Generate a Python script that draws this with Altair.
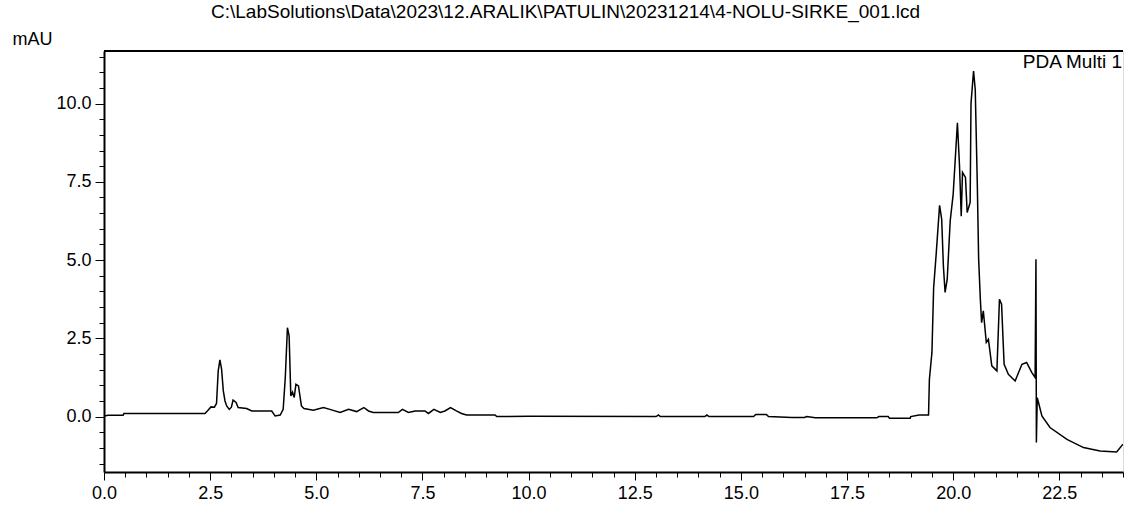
import altair as alt
import pandas as pd

TITLE = "C:\\LabSolutions\\Data\\2023\\12.ARALIK\\PATULIN\\20231214\\4-NOLU-SIRKE_001.lcd"
Y_UNIT = "mAU"
CHANNEL = "PDA Multi 1"

# retention time (min)
time_min = [
    0.0, 0.1, 0.45, 0.47, 2.38, 2.45, 2.52, 2.6, 2.65, 2.69, 2.73, 2.77, 2.81, 2.85,
    2.89, 2.95, 3.0, 3.04, 3.11, 3.16, 3.36, 3.48, 3.95, 4.0, 4.03, 4.15, 4.22, 4.27,
    4.32, 4.36, 4.40, 4.44, 4.48, 4.52, 4.58, 4.65, 4.71, 4.93, 5.17, 5.32, 5.56, 5.76,
    5.95, 6.12, 6.23, 6.34, 6.93, 7.03, 7.17, 7.33, 7.56, 7.64, 7.77, 7.92, 8.03, 8.16,
    8.3, 8.42, 8.54, 9.21, 9.25, 10.0, 13.0, 13.06, 13.1, 14.15, 14.2, 14.25, 15.3,
    15.35, 15.6, 15.65, 16.2, 16.5, 16.55, 16.75, 18.2, 18.25, 18.47, 18.5, 18.99,
    19.0, 19.2, 19.35, 19.42, 19.44, 19.5, 19.54, 19.6, 19.68, 19.73, 19.77, 19.81,
    19.86, 19.93, 20.0, 20.07, 20.1, 20.15, 20.19, 20.22, 20.29, 20.33, 20.4, 20.42,
    20.48, 20.52, 20.57, 20.6, 20.64, 20.67, 20.71, 20.78, 20.83, 20.91, 21.03, 21.09,
    21.14, 21.2, 21.3, 21.46, 21.62, 21.73, 21.85, 21.93, 21.95, 21.96, 21.98, 22.01,
    22.09, 22.28, 22.68, 23.07, 23.46, 23.85, 24.0,
]
# absorbance (mAU)
absorbance = [
    0.02, 0.04, 0.04, 0.1, 0.1, 0.2, 0.31, 0.3, 0.42, 1.46, 1.81, 1.51, 0.82, 0.5,
    0.34, 0.23, 0.3, 0.53, 0.45, 0.29, 0.26, 0.18, 0.18, 0.08, 0.02, 0.05, 0.23, 1.25,
    2.84, 2.58, 0.66, 0.78, 0.61, 1.03, 0.98, 0.34, 0.26, 0.2, 0.29, 0.23, 0.13, 0.23,
    0.16, 0.29, 0.18, 0.13, 0.13, 0.23, 0.13, 0.18, 0.18, 0.1, 0.23, 0.13, 0.18, 0.29,
    0.18, 0.1, 0.05, 0.05, 0.0, 0.01, 0.0, 0.05, 0.0, 0.0, 0.05, 0.0, 0.0,
    0.07, 0.07, 0.0, -0.03, -0.03, 0.0, -0.04, -0.04, 0.0, 0.0, -0.05, -0.05,
    0.0, 0.05, 0.05, 0.05, 1.19, 2.05, 4.12, 5.19, 6.75, 6.3, 4.8, 3.97,
    4.39, 6.25, 7.1, 8.7, 9.39, 8.0, 6.4, 7.8, 7.64, 6.52, 6.84, 10.0,
    11.04, 10.45, 7.32, 5.03, 3.75, 3.0, 3.38, 2.37, 2.47, 1.62, 1.46, 3.75,
    3.59, 1.67, 1.35, 1.14, 1.67, 1.73, 1.41, 1.25, 5.03, -0.83, 0.6, 0.45,
    0.02, -0.35, -0.73, -0.99, -1.1, -1.13, -0.88,
]

x_ticks = [i * 0.5 for i in range(0, 49)]
y_ticks = [i * 0.5 for i in range(-3, 24)]

df = pd.DataFrame({"t": time_min, "v": absorbance})
one = pd.DataFrame({"s": [CHANNEL]})

W, H = 1019, 421
FONT = "Liberation Sans"
FS = 18

major_test = "abs(datum.value % 2.5) < 0.000001"

x_axis = alt.Axis(
    values=x_ticks,
    labelExpr=f"({major_test}) ? format(datum.value, '.1f') : ''",
    tickSize={"condition": {"test": major_test, "value": 8}, "value": 5},
    tickColor="black", tickWidth=1,
    domainColor="black", domainWidth=2,
    labelFont=FONT, labelFontSize=FS, labelColor="black",
    labelPadding=4, labelOverlap=False, labelFlush=False,
    grid=False, title=None,
)
y_axis = alt.Axis(
    values=y_ticks,
    labelExpr=f"({major_test}) ? format(datum.value, '.1f') : ''",
    tickSize={"condition": {"test": major_test, "value": 9}, "value": 5},
    tickColor="black", tickWidth=1,
    domainColor="black", domainWidth=2,
    labelFont=FONT, labelFontSize=FS, labelColor="black",
    labelPadding=4, labelOverlap=False, labelFlush=False,
    grid=False,
    title=Y_UNIT, titleAngle=0, titleX=-92, titleY=-12,
    titleAlign="left", titleBaseline="middle",
    titleFont=FONT, titleFontSize=FS, titleFontWeight="normal", titleColor="black",
)

line = alt.Chart(df).mark_line(color="black", strokeWidth=1.5, clip=True).encode(
    x=alt.X("t:Q", scale=alt.Scale(domain=[0, 24], nice=False, zero=False), axis=x_axis),
    y=alt.Y("v:Q", scale=alt.Scale(domain=[-1.77, 11.68], nice=False, zero=False), axis=y_axis),
)

top_line = alt.Chart(one).mark_rule(color="black", strokeWidth=2).encode(
    x=alt.value(0), x2=alt.value(W), y=alt.value(0)
)

label = alt.Chart(one).mark_text(
    font=FONT, fontSize=19, color="black", align="right", baseline="middle"
).encode(text="s:N", x=alt.value(W - 1), y=alt.value(11))

chart = alt.layer(line, top_line, label).properties(
    width=W, height=H,
    title=alt.TitleParams(
        TITLE, font=FONT, fontSize=19, fontWeight="normal", color="black",
        anchor="middle", dx=-48, offset=8,
    ),
    padding={"left": 104, "top": 51, "right": 20, "bottom": 36},
    autosize=alt.AutoSizeParams(type="none"),
).configure_view(stroke=None).configure(background="white")

chart.save("out.html", embed_options={"renderer": "svg", "actions": False})
